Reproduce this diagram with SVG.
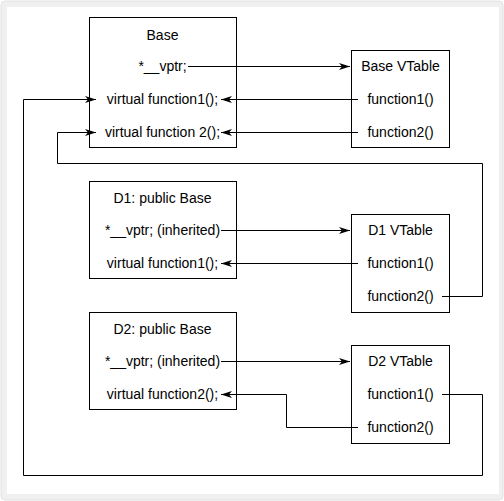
<svg xmlns="http://www.w3.org/2000/svg" width="504" height="501" viewBox="0 0 504 501">
<style>
.box{fill:#fff;stroke:#000;stroke-width:1}
.t{font-family:"Liberation Sans",Arial,sans-serif;font-size:14px;fill:#000;text-anchor:middle}
.c{fill:none;stroke:#000;stroke-width:1}
</style>
<defs>
<marker id="ah" markerWidth="12" markerHeight="8" refX="11" refY="4" orient="auto" markerUnits="userSpaceOnUse">
<path d="M0,0.5 L11,4 L0,7.5 L3,4 z" fill="#000"/>
</marker>
</defs>
<rect x="1" y="1" width="502" height="499" rx="4" fill="#f0f0f0" stroke="#e2e2e2"/>
<rect x="7" y="7" width="492" height="487" fill="#fff"/>
<g id="connectors">
<path class="c" d="M188,66.5 H350" marker-end="url(#ah)"/>
<path class="c" d="M358,99.5 H221" marker-end="url(#ah)"/>
<path class="c" d="M358,132.5 H221" marker-end="url(#ah)"/>
<path class="c" d="M221,230.5 H350" marker-end="url(#ah)"/>
<path class="c" d="M358,263.5 H221" marker-end="url(#ah)"/>
<path class="c" d="M221,361.5 H350" marker-end="url(#ah)"/>
<path class="c" d="M358,427.5 H286.5 V394.5 H221" marker-end="url(#ah)"/>
<path class="c" d="M442,394.5 H482.5 V475.5 H23.5 V99.5 H96" marker-end="url(#ah)"/>
<path class="c" d="M442,296.5 H482.5 V163.5 H57.5 V132.5 H96" marker-end="url(#ah)"/>
</g>
<g id="base">
<rect class="box" x="89.5" y="17.5" width="147" height="130" fill-opacity="0"/>
<text class="t" x="162.5" y="40">Base</text>
<text class="t" x="162.5" y="71">*__vptr;</text>
<text class="t" x="162.5" y="104">virtual function1();</text>
<text class="t" x="162.5" y="137">virtual function 2();</text>
</g>
<g id="base-vtable">
<rect class="box" x="351.5" y="50.5" width="98" height="97" fill-opacity="0"/>
<text class="t" x="400.5" y="71">Base VTable</text>
<text class="t" x="400.5" y="104">function1()</text>
<text class="t" x="400.5" y="137">function2()</text>
</g>
<g id="d1">
<rect class="box" x="89.5" y="181.5" width="147" height="97" fill-opacity="0"/>
<text class="t" x="162.5" y="203">D1: public Base</text>
<text class="t" x="162.5" y="235">*__vptr; (inherited)</text>
<text class="t" x="162.5" y="268">virtual function1();</text>
</g>
<g id="d1-vtable">
<rect class="box" x="351.5" y="214.5" width="98" height="98" fill-opacity="0"/>
<text class="t" x="400.5" y="235">D1 VTable</text>
<text class="t" x="400.5" y="268">function1()</text>
<text class="t" x="400.5" y="301">function2()</text>
</g>
<g id="d2">
<rect class="box" x="89.5" y="312.5" width="147" height="97" fill-opacity="0"/>
<text class="t" x="162.5" y="334">D2: public Base</text>
<text class="t" x="162.5" y="366">*__vptr; (inherited)</text>
<text class="t" x="162.5" y="399">virtual function2();</text>
</g>
<g id="d2-vtable">
<rect class="box" x="351.5" y="345.5" width="98" height="98" fill-opacity="0"/>
<text class="t" x="400.5" y="366">D2 VTable</text>
<text class="t" x="400.5" y="399">function1()</text>
<text class="t" x="400.5" y="432">function2()</text>
</g>
</svg>
